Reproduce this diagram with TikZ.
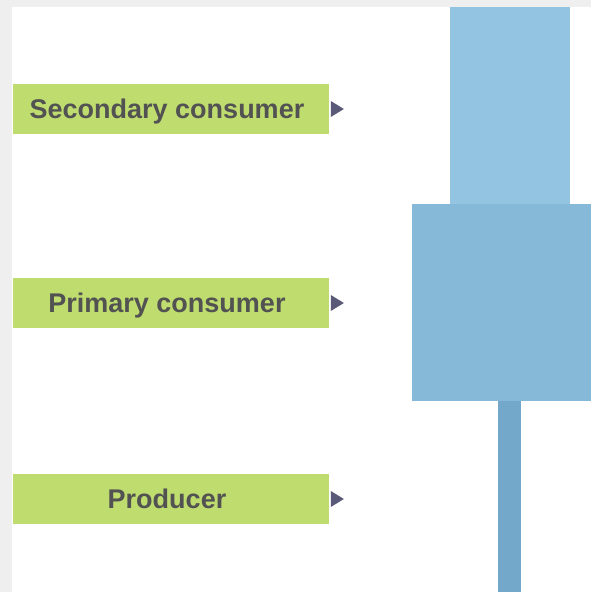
\documentclass[tikz,border=0pt]{standalone}
\usepackage{fontspec}
\setmainfont{Liberation Sans}
\usetikzlibrary{positioning}
\usetikzlibrary{shapes.geometric}
\definecolor{levelgreen}{HTML}{BFDC6F}
\definecolor{leveltext}{HTML}{525252}
\definecolor{tipgray}{HTML}{5A5A78}
\definecolor{barlight}{HTML}{93C4E2}
\definecolor{barmid}{HTML}{86B8D7}
\definecolor{bardark}{HTML}{73A8CB}
\definecolor{panelgray}{HTML}{EFEFEF}
\begin{document}
\begin{tikzpicture}[x=0.5pt,y=-0.5pt,
        level/.style={fill=levelgreen,rectangle,inner sep=0pt,minimum width=158pt,
            minimum height=25pt,text=leveltext,text height=9.8pt,text depth=0pt,
            font=\fontsize{13.5}{15}\selectfont\bfseries,
            execute at end node={\kern4pt}},
        tip/.style={fill=tipgray,isosceles triangle,isosceles triangle apex angle=63,
            inner sep=0pt,minimum height=6.5pt,minimum width=8pt},
        bar/.style={rectangle,inner sep=0pt,anchor=north west}]
        % background and panel
        \fill[panelgray] (0,0) rectangle (591,592);
        \fill[white] (12,7) rectangle (591,592);
        \useasboundingbox (0,0) rectangle (591,592);
        % trophic levels
        \node (seccons) [level] at (171,109) {Secondary consumer};
        \node (primcons) [level] at (171,303) {Primary consumer};
        \node (prod) [level] at (171,499) {Producer};
        \node (sectip) [tip,anchor=west,right=0.5pt of seccons.east] {};
        \node (primtip) [tip,anchor=west,right=0.5pt of primcons.east] {};
        \node (prodtip) [tip,anchor=west,right=0.5pt of prod.east] {};
        % pyramid bars
        \fill[barlight] (450,7) rectangle (570,205);
        \fill[barmid] (412,204) rectangle (591,401);
        \fill[bardark] (498,401) rectangle (521,592);
    \end{tikzpicture}
\end{document}
